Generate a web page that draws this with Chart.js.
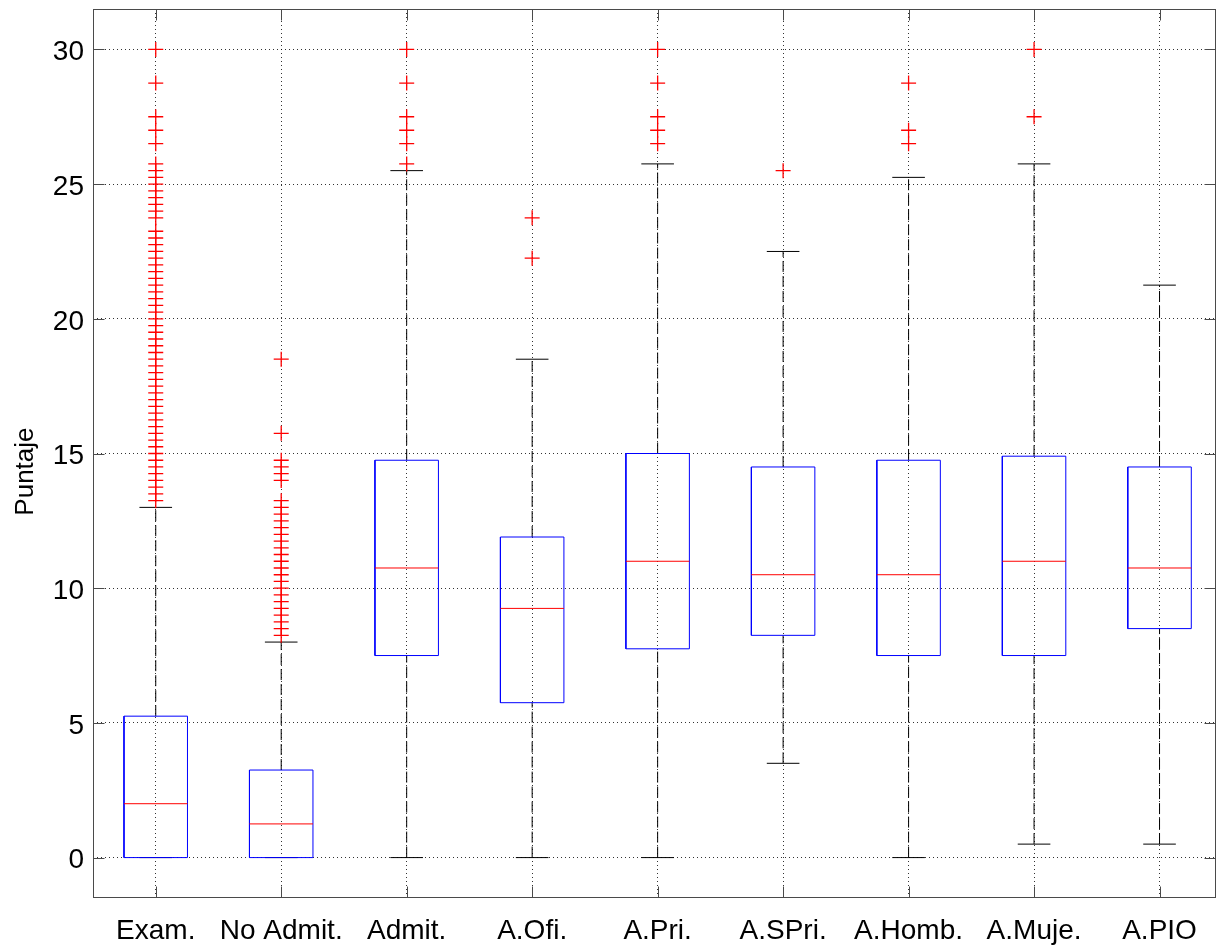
<!DOCTYPE html>
<html><head><meta charset="utf-8">
<script src="https://cdn.jsdelivr.net/npm/chart.js@4"></script>
<style>html,body{margin:0;padding:0;background:#fff;overflow:hidden}</style>
</head><body>
<canvas id="c" width="1217" height="952"></canvas>
<script>
const categories = ['Exam.','No Admit.','Admit.','A.Ofi.','A.Pri.','A.SPri.','A.Homb.','A.Muje.','A.PIO'];
const lowerWhisker = [0, 0, 0, 0, 0, 3.5, 0, 0.5, 0.5];
const q1 = [0, 0, 7.5, 5.75, 7.75, 8.25, 7.5, 7.5, 8.5];
const medians = [2, 1.25, 10.75, 9.25, 11, 10.5, 10.5, 11, 10.75];
const q3 = [5.25, 3.25, 14.75, 11.9, 15, 14.5, 14.75, 14.9, 14.5];
const upperWhisker = [13, 8, 25.5, 18.5, 25.75, 22.5, 25.25, 25.75, 21.25];
const outliersExam = [13.25,13.5,13.75,14,14.25,14.5,14.75,15,15.25,15.5,15.75,16,16.25,16.5,16.75,17,17.25,17.5,17.75,18,18.25,18.5,18.75,19,19.25,19.5,19.75,20,20.25,20.5,20.75,21,21.25,21.5,21.75,22,22.25,22.5,22.75,23,23.25,23.75,24,24.25,24.5,24.75,25,25.25,25.5,25.75,26.5,27,27.5,28.75,30];
const outliersNoAdmit = [8.25,8.5,8.75,9,9.25,9.5,9.75,10,10.25,10.5,10.75,11,11.25,11.5,11.75,12,12.25,12.5,12.75,13,13.25,14,14.25,14.5,14.75,15.75,18.5];
const outliersAdmit = [25.75,26.5,27,27.5,28.75,30];
const outliersOfi = [22.25,23.75];
const outliersPri = [26.5,27,27.5,28.75,30];
const outliersSPri = [25.5];
const outliersHomb = [26.5,27,28.75];
const outliersMuje = [27.5,30];
const outliersPIO = [];
const outliers = [outliersExam,outliersNoAdmit,outliersAdmit,outliersOfi,outliersPri,outliersSPri,outliersHomb,outliersMuje,outliersPIO];
const yTicks = [0,5,10,15,20,25,30];
const yTitle = 'Puntaje';

const BOX_HALF = 0.253, CAP_HALF = 0.13;
const boxPts = [], medPts = [], whiskPts = [], capPts = [], outPts = [];
categories.forEach((c, i) => {
  const x = i + 1;
  boxPts.push({x:x-BOX_HALF,y:q1[i]},{x:x+BOX_HALF,y:q1[i]},{x:x+BOX_HALF,y:q3[i]},{x:x-BOX_HALF,y:q3[i]},{x:x-BOX_HALF,y:q1[i]},{x:x,y:null});
  medPts.push({x:x-BOX_HALF,y:medians[i]},{x:x+BOX_HALF,y:medians[i]},{x:x,y:null});
  whiskPts.push({x:x,y:q3[i]},{x:x,y:upperWhisker[i]},{x:x,y:null});
  if (lowerWhisker[i] < q1[i]) whiskPts.push({x:x,y:lowerWhisker[i]},{x:x,y:q1[i]},{x:x,y:null});
  capPts.push({x:x-CAP_HALF,y:upperWhisker[i]},{x:x+CAP_HALF,y:upperWhisker[i]},{x:x,y:null});
  capPts.push({x:x-CAP_HALF,y:lowerWhisker[i]},{x:x+CAP_HALF,y:lowerWhisker[i]},{x:x,y:null});
  outliers[i].forEach(v => outPts.push({x:x,y:v}));
});

const lineDs = (data, color, dash, order) => ({
  type:'scatter', data, showLine:true, spanGaps:false, borderColor:color, borderWidth:1,
  borderDash:dash, pointRadius:0, pointHoverRadius:0, fill:false, tension:0, order
});

const framePlugin = {
  id:'frame',
  afterDraw(chart){
    const {ctx, chartArea:a, scales:{x, y}} = chart;
    ctx.save();
    ctx.strokeStyle = '#4a4a4a';
    ctx.lineWidth = 1;
    const L = Math.round(a.left)+0.5, R = Math.round(a.right)-0.5, T = Math.round(a.top)+0.5, B = Math.round(a.bottom)-0.5;
    ctx.strokeRect(L, T, R-L, B-T);
    ctx.beginPath();
    const tl = 11;
    y.ticks.forEach(t => {
      const py = Math.round(y.getPixelForValue(t.value))+0.5;
      ctx.moveTo(L, py); ctx.lineTo(L+tl, py);
      ctx.moveTo(R, py); ctx.lineTo(R-tl, py);
    });
    x.ticks.forEach(t => {
      const px = Math.round(x.getPixelForValue(t.value))+0.5;
      ctx.moveTo(px, B); ctx.lineTo(px, B-tl);
      ctx.moveTo(px, T); ctx.lineTo(px, T+tl);
    });
    ctx.stroke();
    ctx.restore();
  }
};

new Chart(document.getElementById('c'), {
  type:'scatter',
  data:{ datasets:[
    {type:'scatter', data:outPts, showLine:false, pointStyle:'cross', pointRadius:7.5, pointHoverRadius:7.5, borderColor:'#ff0000', borderWidth:1.3, backgroundColor:'#ff0000', order:0},
    lineDs(medPts, '#ff0000', [], 1),
    lineDs(boxPts, '#0000ff', [], 2),
    lineDs(capPts, '#000000', [], 3),
    lineDs(whiskPts, '#000000', [11,4], 4)
  ]},
  options:{
    responsive:false, animation:false, devicePixelRatio:1,
    layout:{autoPadding:false, padding:{top:9, right:1, left:0, bottom:0}},
    plugins:{legend:{display:false}, tooltip:{enabled:false}},
    events:[],
    scales:{
      x:{
        type:'linear', min:0.5, max:9.45,
        afterBuildTicks: s => { s.ticks = categories.map((c,i)=>({value:i+1})); },
        afterFit: s => { s.height = 54; s.paddingLeft = 0; s.paddingRight = 0; s.paddingTop = 0; s.paddingBottom = 0; },
        ticks:{ callback:(v)=>categories[v-1] ?? '', color:'#000', font:{family:'"Liberation Sans", Arial, sans-serif', size:28}, padding:16, autoSkip:false, maxRotation:0, minRotation:0 },
        grid:{ color:'rgba(0,0,0,0.8)', lineWidth:1, drawTicks:false },
        border:{ display:false, dash:[1,3] }
      },
      y:{
        type:'linear', min:-1.5, max:31.5,
        afterBuildTicks: s => { s.ticks = yTicks.map(v=>({value:v})); },
        afterFit: s => { s.width = 93; s.paddingTop = 0; s.paddingBottom = 0; s.paddingLeft = 0; s.paddingRight = 0; },
        ticks:{ color:'#000', font:{family:'"Liberation Sans", Arial, sans-serif', size:28}, padding:9, labelOffset:3 },
        grid:{ color:'rgba(0,0,0,0.8)', lineWidth:1, drawTicks:false },
        border:{ display:false, dash:[1,3] },
        title:{ display:true, text:yTitle + '\u00a0\u00a0\u00a0\u00a0\u00a0', color:'#000', font:{family:'"Liberation Sans", Arial, sans-serif', size:26}, padding:{top:10,bottom:0} }
      }
    }
  },
  plugins:[framePlugin]
});
</script>
</body></html>
